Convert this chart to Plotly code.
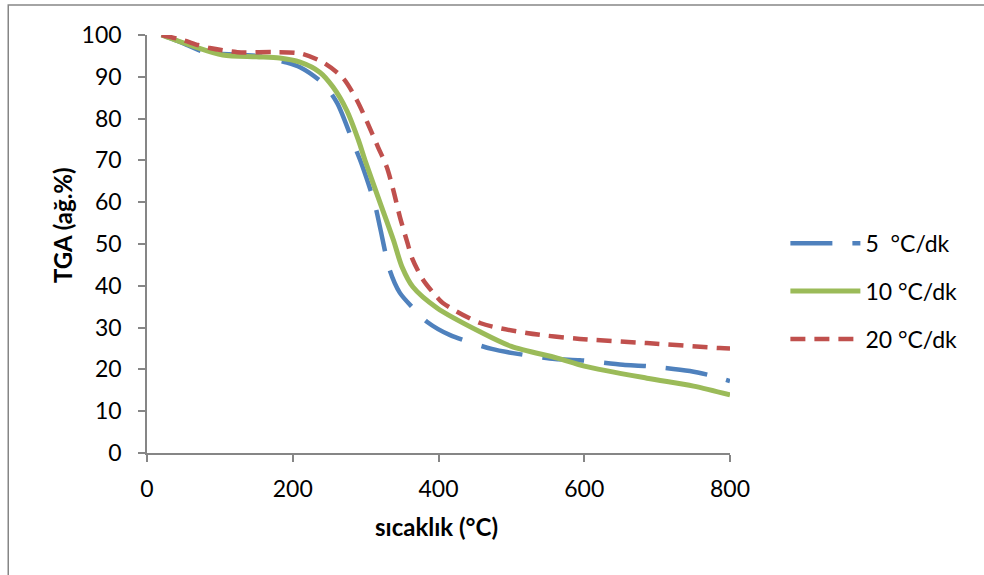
import plotly.graph_objects as go

# ---- data ----
t5 = [20, 50, 77, 100, 150, 192, 210, 241, 261, 283, 295, 313, 320, 333, 347, 365, 385, 416, 473, 502, 560, 594, 653, 686, 745, 777, 800]
w5 = [100, 98, 96, 95.5, 95, 93.4, 92.3, 88.5, 83.7, 74.2, 68.9, 59.3, 53.8, 43.8, 38.3, 34.7, 31.3, 28.2, 24.9, 23.9, 22.5, 22.2, 21.1, 20.8, 19.6, 18.4, 17.2]

t10 = [20, 60, 104, 150, 182, 210, 237, 255, 274, 290, 299, 320, 338, 350, 365, 398, 457, 500, 563, 600, 686, 750, 800]
w10 = [100, 97.5, 95.2, 94.8, 94.5, 93.5, 91.1, 87.6, 82, 74.9, 70.1, 59.8, 51, 44.5, 39.7, 34.7, 29, 25.5, 22.7, 20.8, 17.9, 16, 13.9]

t20 = [20, 49, 70, 86, 124, 173, 210, 241, 269, 288, 302, 317, 329, 338, 347, 357, 364, 379, 398, 406, 457, 521, 594, 686, 786, 800]
w20 = [100, 98.8, 97.6, 96.9, 95.9, 95.9, 95.6, 93.5, 89.7, 84.4, 79.2, 73.2, 68.4, 62.9, 56.5, 50.5, 46.5, 41.4, 37.3, 35.9, 31.1, 28.7, 27.3, 26.3, 25.1, 25]

names = ["5  °C/dk", "10 °C/dk", "20 °C/dk"]
x_ticks = [0, 200, 400, 600, 800]
y_ticks = [0, 10, 20, 30, 40, 50, 60, 70, 80, 90, 100]

FONT = "Lato"
AX = "#868686"

fig = go.Figure()
fig.add_trace(go.Scatter(x=t5, y=w5, name=names[0], mode="lines", legendgroup="a",
                         line=dict(color="#4F81BD", width=4.5, dash="42px,20px", shape="spline", smoothing=0.8)))
fig.add_trace(go.Scatter(x=t10, y=w10, name=names[1], mode="lines", legendgroup="b",
                         line=dict(color="#9BBB59", width=5, shape="spline", smoothing=0.8)))
fig.add_trace(go.Scatter(x=t20, y=w20, name=names[2], mode="lines", legendgroup="c",
                         line=dict(color="#C0504D", width=4.5, dash="15px,9px", shape="spline", smoothing=0.8)))

fig.update_layout(
    width=984, height=575,
    margin=dict(l=147, r=254, t=35, b=122),
    paper_bgcolor="white", plot_bgcolor="white",
    font=dict(family=FONT, size=23, color="black"),
    showlegend=True,
    legend=dict(x=1.095, y=0.387, xanchor="left", yanchor="middle",
                font=dict(family=FONT, size=23, color="black"),
                tracegroupgap=15, itemwidth=70, bgcolor="rgba(0,0,0,0)"),
    xaxis=dict(range=[0, 800], tickvals=x_ticks, showgrid=False, zeroline=False,
               showline=True, linecolor=AX, linewidth=1.5,
               ticks="outside", ticklen=7, tickcolor=AX, tickwidth=1.5,
               tickfont=dict(family=FONT, size=23), ticklabelstandoff=8),
    yaxis=dict(range=[0, 100], tickvals=y_ticks, showgrid=False, zeroline=False,
               showline=True, linecolor=AX, linewidth=1.5,
               ticks="outside", ticklen=7, tickcolor=AX, tickwidth=1.5,
               tickfont=dict(family=FONT, size=23), ticklabelstandoff=12),
    annotations=[
        dict(text="<b>sıcaklık (°C)</b>", xref="paper", yref="paper", x=0.497, y=-0.177,
             xanchor="center", yanchor="middle", showarrow=False, font=dict(family=FONT, size=24)),
        dict(text="<b>TGA (ağ.%)</b>", xref="paper", yref="paper", x=-0.146, y=0.545,
             xanchor="center", yanchor="middle", textangle=-90, showarrow=False,
             font=dict(family=FONT, size=24)),
    ],
    shapes=[
        dict(type="rect", xref="paper", yref="paper", x0=-0.238, x1=2.0, y0=-0.6, y1=1.0718,
             line=dict(color=AX, width=1.5), fillcolor="rgba(0,0,0,0)", layer="below"),
    ],
)

fig.write_html("out.html")
